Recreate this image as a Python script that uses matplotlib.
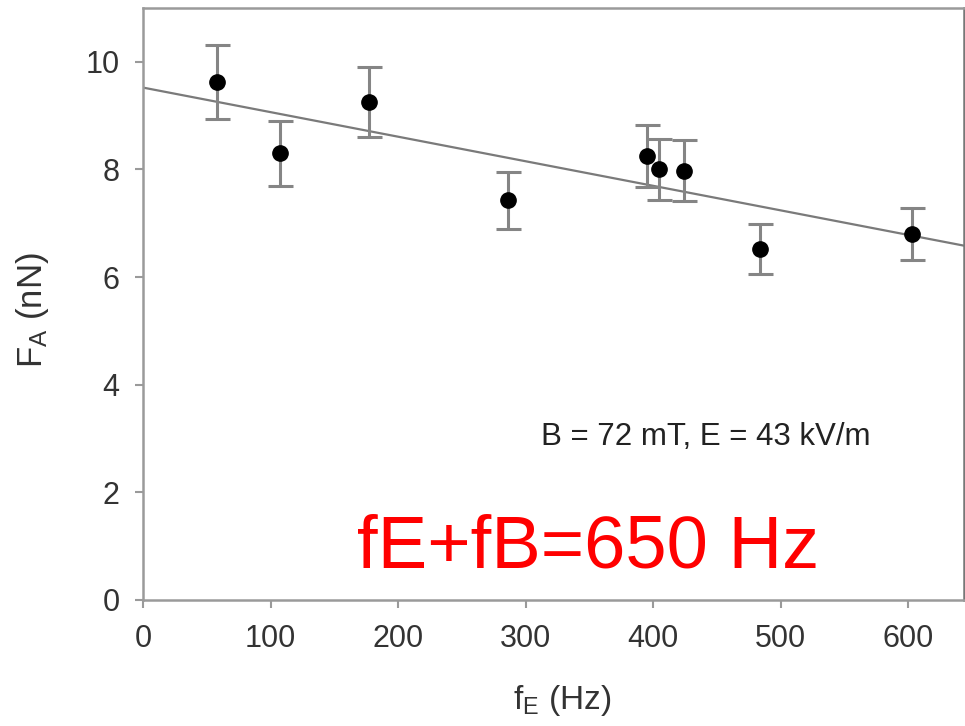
import matplotlib
matplotlib.use('Agg')
import matplotlib.pyplot as plt
import numpy as np

plt.rcParams['font.family'] = ['Liberation Sans', 'DejaVu Sans']
plt.rcParams['mathtext.default'] = 'regular'

# data
freq = [58, 107, 177, 286, 395, 405, 424, 484, 603]
force = [9.63, 8.30, 9.25, 7.43, 8.25, 8.00, 7.98, 6.52, 6.80]
force_err = [0.69, 0.60, 0.65, 0.53, 0.58, 0.57, 0.56, 0.47, 0.49]
# linear fit
fit_icept = 9.52
fit_slope = -0.00456
x_max = 644

fig = plt.figure(figsize=(9.65, 7.26), dpi=100)
ax = fig.add_axes([0.1485, 0.1736, 0.8505, 0.8154])

xl = np.array([0, x_max])
ax.plot(xl, fit_icept + fit_slope * xl, color='#7a7a7a', lw=1.6, zorder=2)
ax.errorbar(freq, force, yerr=force_err, fmt='o', color='black', ms=11,
            ecolor='#858585', elinewidth=2.2, capsize=9, capthick=2.2, zorder=3)

ax.set_xlim(0, x_max)
ax.set_ylim(0, 11)
ax.set_xticks([0, 100, 200, 300, 400, 500, 600])
ax.set_yticks([0, 2, 4, 6, 8, 10])

for s in ax.spines.values():
    s.set_color('#9a9a9a')
    s.set_linewidth(1.8)
ax.spines['right'].set_color('#777777')
ax.tick_params(direction='out', length=6, width=1.5, color='#9a9a9a',
               labelsize=22, labelcolor='#333333', pad=11,
               top=False, right=False)

ax.set_xlabel(r'f$_E$ (Hz)', fontsize=24, color='#333333')
ax.set_ylabel(r'F$_A$ (nN)', fontsize=25, color='#333333')
ax.xaxis.set_label_coords(0.51, -0.14)
ax.yaxis.set_label_coords(-0.112, 0.49)

ax.text(0.485, 0.262, 'B = 72 mT, E = 43 kV/m', transform=ax.transAxes,
        fontsize=22.5, color='#222222', ha='left', va='baseline')
ax.text(0.5417, 0.054, 'fE+fB=650 Hz', transform=ax.transAxes,
        fontsize=53.5, color='#ff0000', ha='center', va='baseline')

fig.savefig('out.png', dpi=100)
